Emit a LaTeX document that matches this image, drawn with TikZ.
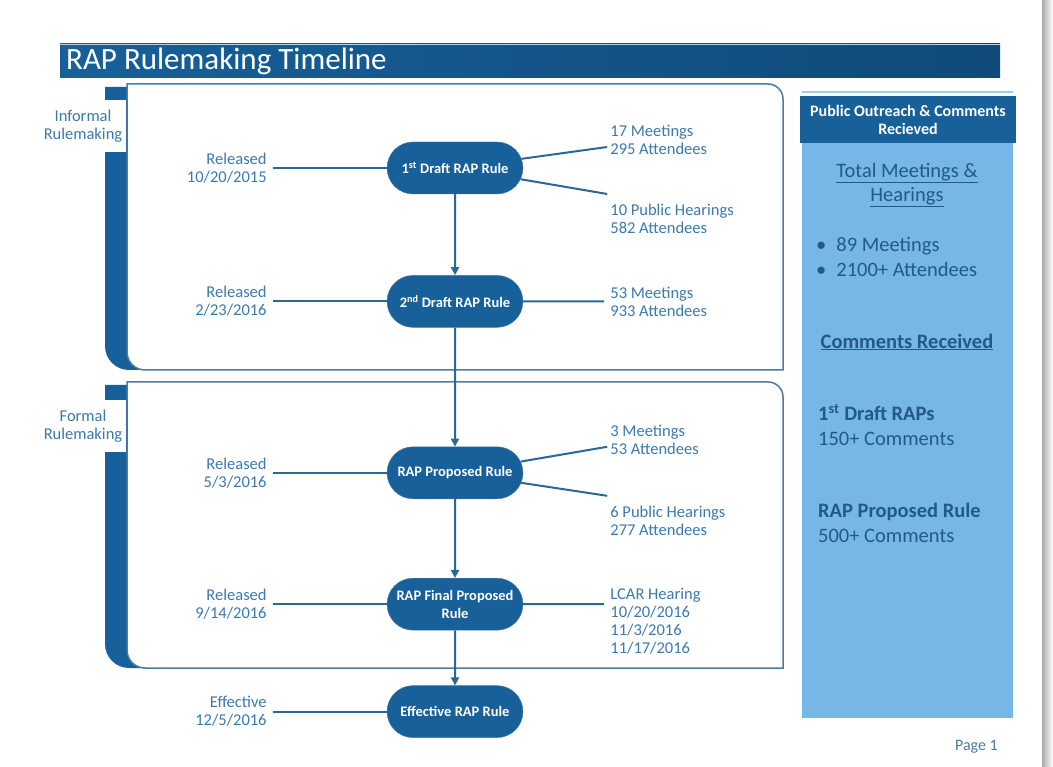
\documentclass[tikz,border=0pt]{standalone}
\usepackage{fontspec}
\setmainfont{Carlito}
\usetikzlibrary{positioning,arrows.meta,shapes.misc}
\definecolor{rapnavy}{HTML}{17609A}
\definecolor{rapdark}{HTML}{0F4A7A}
\definecolor{raptext}{HTML}{3B7AAE}
\definecolor{rapline}{HTML}{2A6898}
\definecolor{rapframe}{HTML}{4A7BA6}
\definecolor{rapsky}{HTML}{76B7E8}
\definecolor{rapink}{HTML}{22598A}
\tikzset{
  rule/.style={rounded rectangle, fill=rapnavy, draw=rapframe, minimum width=140pt,
    minimum height=52pt, text=white, align=center, inner sep=2pt,
    font=\fontsize{14.5}{18}\selectfont\bfseries},
  note/.style={text=raptext, inner sep=3pt, font=\fontsize{16.5}{18}\selectfont},
  phase/.style={note, fill=white, align=center, minimum width=86pt, minimum height=52pt, inner sep=0pt},
  link/.style={rapline, line width=2pt},
  flow/.style={link, -{Triangle[width=8pt,length=8pt]}},
  panel/.style={text=rapink, inner sep=0pt, font=\fontsize{20.5}{24.5}\selectfont}
}
\begin{document}
\begin{tikzpicture}[x=1pt,y=-1pt]
\useasboundingbox (0,0) rectangle (1053,767);
\fill[white] (0,0) rectangle (1053,767);
\shade[left color=gray!65, right color=white] (1042,0) rectangle (1053,767);

\shade[left color=rapnavy, right color=rapdark] (60,44) rectangle (1000,78);
\draw[rapsky!60, line width=1pt] (60,44.5) -- (1000,44.5);
\node[anchor=base west, text=white, inner sep=0pt, font=\fontsize{31}{32}\selectfont] (title) at (66,70) {RAP Rulemaking Timeline};

\foreach \dy in {0,298} {
  \fill[rapnavy] (105,87+\dy) -- (105,346+\dy) arc[start angle=180, end angle=270, radius=24pt]
    -- (150,370+\dy) -- (150,87+\dy) -- cycle;
  \filldraw[fill=white, draw=rapframe, line width=1.5pt] (127,84+\dy) -- (768,84+\dy)
    arc[start angle=90, end angle=0, radius=15pt] -- (783,370+\dy) -- (145,370+\dy)
    arc[start angle=270, end angle=180, radius=18pt] -- cycle;
}
\node[phase] (informal) at (83,126) {Informal\\Rulemaking};
\node[phase] (formal) at (83,426) {Formal\\Rulemaking};

\node[rule] (d1) at (455,168) {1\textsuperscript{st} Draft RAP Rule};
\node[rule, below=81pt of d1] (d2) {2\textsuperscript{nd} Draft RAP Rule};
\node[rule, below=119pt of d2] (d3) {RAP Proposed Rule};
\node[rule, below=79pt of d3] (d4) {RAP Final Proposed\\Rule};
\node[rule, below=55pt of d4] (d5) {Effective RAP Rule};

\node[note, align=right, left=117pt of d1] (r1) {Released\\10/20/2015};
\node[note, align=right, left=117pt of d2] (r2) {Released\\2/23/2016};
\node[note, align=right, left=117pt of d3] (r3) {Released\\5/3/2016};
\node[note, align=right, left=117pt of d4] (r4) {Released\\9/14/2016};
\node[note, align=right, left=117pt of d5] (r5) {Effective\\12/5/2016};

\node[note, align=left, anchor=west] (s1a) at ([xshift=84pt,yshift=28pt]d1.east) {17 Meetings\\295 Attendees};
\node[note, align=left, anchor=west] (s1b) at ([xshift=84pt,yshift=-51pt]d1.east) {10 Public Hearings\\582 Attendees};
\node[note, align=left, right=84pt of d2] (s2) {53 Meetings\\933 Attendees};
\node[note, align=left, anchor=west] (s3a) at ([xshift=84pt,yshift=33pt]d3.east) {3 Meetings\\53 Attendees};
\node[note, align=left, anchor=west] (s3b) at ([xshift=84pt,yshift=-48pt]d3.east) {6 Public Hearings\\277 Attendees};
\node[note, align=left, anchor=west] (s4) at ([xshift=84pt,yshift=-17pt]d4.east) {LCAR Hearing\\10/20/2016\\11/3/2016\\11/17/2016};

\draw[flow] (d1) -- (d2);
\draw[flow] (d2) -- (d3);
\draw[flow] (d3) -- (d4);
\draw[flow] (d4) -- (d5);

\foreach \n in {1,...,5} \draw[link] ([xshift=3pt]r\n.east) -- (d\n);
\draw[link] (d1) -- ([yshift=-7pt]s1a.west);
\draw[link] (d1) -- ([yshift=7pt]s1b.north west);
\draw[link] (d2) -- ([xshift=-3pt]s2.west);
\draw[link] (d3) -- ([yshift=-7pt]s3a.west);
\draw[link] (d3) -- ([yshift=7pt]s3b.north west);
\draw[link] (d4) -- ([xshift=-3pt]s4.west |- d4);

\fill[rapsky] (802,143) rectangle (1013,718);
\draw[rapsky!70, line width=2pt] (802,92) -- (1013,92);
\node[fill=rapnavy, text=white, minimum width=216pt, minimum height=47pt, inner sep=0pt, align=center,
  font=\fontsize{16}{18}\selectfont\bfseries] (head) at (908,119.5) {Public Outreach \& Comments\\Recieved};
\node[panel, align=center] (total) at (907,185) {\underline{Total Meetings \&}\\\underline{Hearings}};
\node[panel, align=left, anchor=west] (counts) at (816,257) {\textbullet\hspace{10pt}89 Meetings\\\textbullet\hspace{10pt}2100+ Attendees};
\node[panel, font=\fontsize{20.5}{24.5}\selectfont\bfseries] (comments) at (907,342) {\underline{Comments Received}};
\node[panel, align=left, anchor=west] (c1) at (818,425) {\textbf{1\textsuperscript{st} Draft RAPs}\\150+ Comments};
\node[panel, align=left, anchor=west] (c2) at (818,523) {\textbf{RAP Proposed Rule}\\500+ Comments};
\node[anchor=base east, text=rapframe, inner sep=0pt, font=\fontsize{16}{18}\selectfont] (page) at (998,750) {Page 1};
\end{tikzpicture}
\end{document}
